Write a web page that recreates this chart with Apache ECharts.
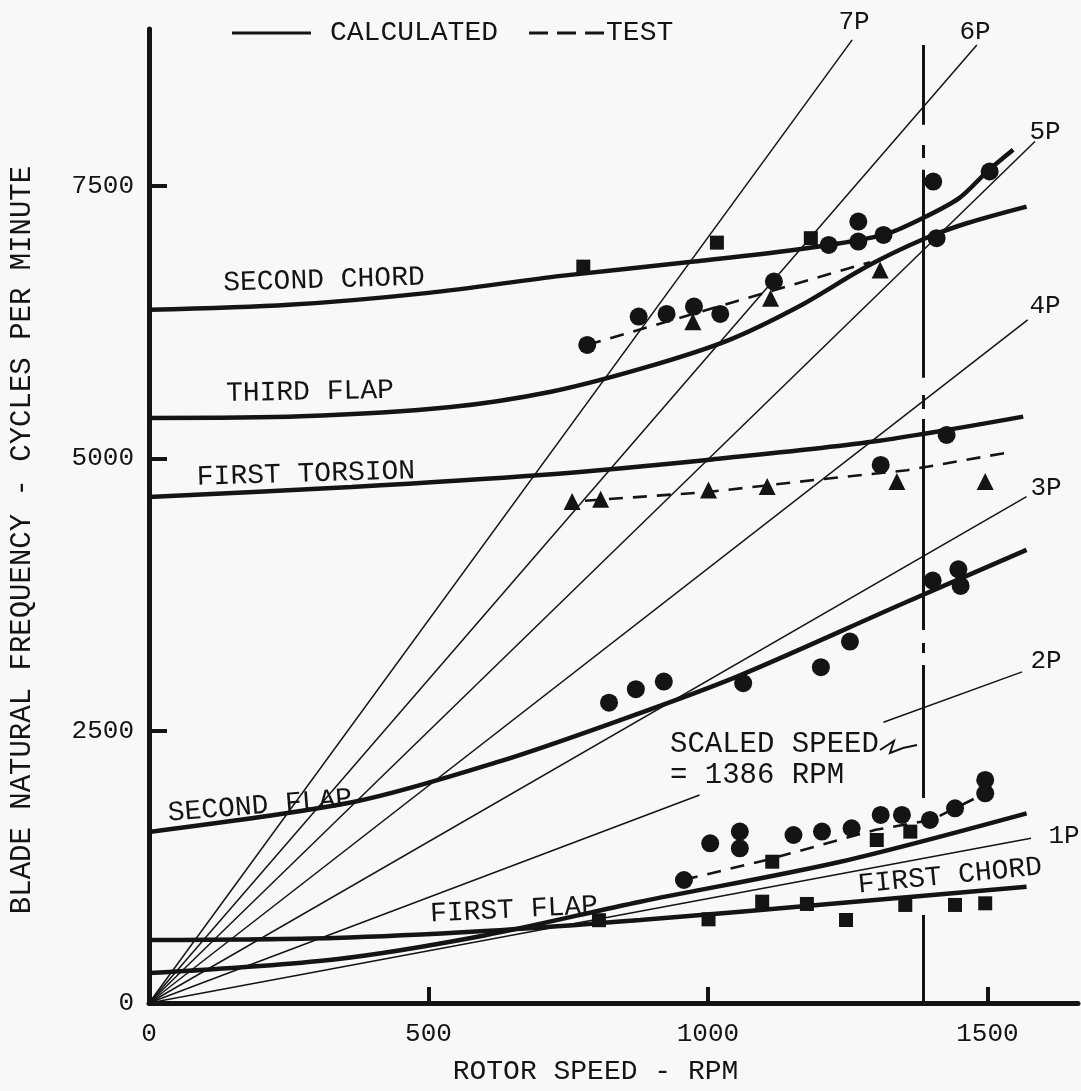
<!DOCTYPE html>
<html>
<head>
<meta charset="utf-8">
<script src="https://cdn.jsdelivr.net/npm/echarts@6/dist/echarts.min.js"></script>
<style>
  html, body { margin: 0; padding: 0; background: #f8f8f6; }
  #chart { width: 1081px; height: 1091px; }
</style>
</head>
<body>
<div id="chart"></div>
<script>
// axis ticks
const xTickValues = [0, 500, 1000, 1500];
const yTickValues = [0, 2500, 5000, 7500];

// calculated curves  [rpm, cycles per minute]
const secondChordCalc = [[0, 6362], [250, 6408], [500, 6518], [737, 6674], [975, 6805], [1180, 6930], [1314, 7050], [1385, 7206], [1450, 7390], [1499, 7629], [1546, 7831]];
const thirdFlapCalc = [[0, 5370], [272, 5385], [540, 5470], [719, 5610], [885, 5829], [1035, 6080], [1165, 6400], [1284, 6760], [1385, 7010], [1463, 7157], [1570, 7310]];
const firstTorsionCalc = [[0, 4645], [362, 4737], [701, 4847], [999, 4985], [1296, 5153], [1564, 5382]];
const secondFlapCalc = [[0, 1570], [370, 1850], [629, 2220], [844, 2598], [1052, 2996], [1350, 3669], [1570, 4159]];
const firstFlapCalc = [[0, 275], [331, 400], [600, 620], [879, 930], [1237, 1297], [1570, 1741]];
const firstChordCalc = [[0, 578], [331, 597], [600, 660], [879, 762], [1237, 918], [1570, 1068]];

// test lines (dashed)
const thirdFlapTestLine = [[784, 6040], [1290, 6800]];
const firstTorsionTestLine = [[780, 4610], [1000, 4690], [1190, 4800], [1356, 4890], [1546, 5061]];
const firstFlapTestLine = [[957, 1130], [1110, 1320], [1300, 1590], [1400, 1680], [1496, 1925]];

// test points
const testCircles = [
  [784, 6040], [876, 6300], [926, 6325], [975, 6392], [1022, 6325], [1118, 6622],
  [1216, 6958], [1269, 7172], [1269, 6989], [1314, 7050], [1403, 7540], [1409, 7020], [1504, 7632],
  [1309, 4939], [1427, 5214],
  [823, 2757], [871, 2880], [921, 2950], [1063, 2935], [1202, 3082], [1254, 3317], [1402, 3877], [1448, 3981], [1452, 3828],
  [957, 1129], [1004, 1466], [1057, 1573], [1057, 1420], [1153, 1542], [1204, 1573], [1257, 1604],
  [1309, 1726], [1347, 1726], [1397, 1680], [1442, 1787], [1496, 2047], [1496, 1925]
];
const testTriangles = [
  [973, 6254], [1112, 6469], [1308, 6729],
  [757, 4602], [808, 4624], [1001, 4709], [1106, 4740], [1338, 4786], [1496, 4786]
];
const testSquares = [
  [777, 6759], [1016, 6979], [1184, 7020],
  [1115, 1297], [1302, 1496], [1362, 1573],
  [805, 760], [1001, 768], [1097, 930], [1177, 909], [1247, 762], [1353, 900], [1442, 900], [1496, 915]
];

// per-rev lines, origin to end point
const rayLabels = ['1P', '2P', '3P', '4P', '5P', '6P', '7P'];
const rayEnds = [[1578, 1513], [985, 1909], [1570, 4648], [1572, 6270], [1585, 7907], [1481, 8794], [1258, 8840]];
const twoPUpper = [[1314, 2577], [1562, 3039]];

// scaled speed line, broken into dash-dot pieces
const scaledSpeed = 1386;
const scaledSpeedPieces = [[0, 808], [1882, 3103], [3213, 3305], [3424, 5361], [5453, 5581], [5738, 7647], [7757, 7876], [8060, 8794]];

const INK = '#141414';
const FONT = '"Liberation Mono", "DejaVu Sans Mono", monospace';

const chart = echarts.init(document.getElementById('chart'));

const calcCurves = [secondChordCalc, thirdFlapCalc, firstTorsionCalc, secondFlapCalc, firstFlapCalc, firstChordCalc];
const testLines = [thirdFlapTestLine, firstTorsionTestLine, firstFlapTestLine];

const series = [];

series.push({
  type: 'lines',
  coordinateSystem: 'cartesian2d',
  silent: true,
  z: 1,
  lineStyle: { color: INK, width: 1.5, opacity: 1 },
  data: rayEnds.map(e => ({ coords: [[0, 0], e] })).concat([{ coords: twoPUpper }])
});

series.push({
  type: 'lines',
  coordinateSystem: 'cartesian2d',
  silent: true,
  z: 2,
  lineStyle: { color: INK, width: 3, opacity: 1 },
  data: scaledSpeedPieces.map(p => ({ coords: [[scaledSpeed, p[0]], [scaledSpeed, p[1]]] }))
});

calcCurves.forEach(d => {
  series.push({
    name: 'CALCULATED',
    type: 'line',
    data: d,
    smooth: 0.3,
    symbol: 'none',
    z: 4,
    lineStyle: { color: INK, width: 4.5 },
    itemStyle: { color: INK }
  });
});

testLines.forEach(d => {
  series.push({
    name: 'TEST',
    type: 'line',
    data: d,
    symbol: 'none',
    z: 3,
    lineStyle: { color: INK, width: 2.6, type: [14, 10] },
    itemStyle: { color: INK }
  });
});

const markerStyle = { color: INK, opacity: 1 };
series.push({ type: 'scatter', data: testCircles, symbol: 'circle', symbolSize: 18, itemStyle: markerStyle, z: 5 });
series.push({ type: 'scatter', data: testTriangles, symbol: 'triangle', symbolSize: 17, itemStyle: markerStyle, z: 5 });
series.push({ type: 'scatter', data: testSquares, symbol: 'rect', symbolSize: 14, itemStyle: markerStyle, z: 5 });

function txt(text, x, y, rot, size, align) {
  return {
    type: 'text',
    x: x,
    y: y,
    rotation: rot || 0,
    z: 10,
    style: {
      text: text,
      font: (size || 28) + 'px ' + FONT,
      fill: INK,
      align: align || 'center',
      verticalAlign: 'middle',
      textAlign: align || 'center',
      textVerticalAlign: 'middle'
    }
  };
}

// legend icons: a solid bar and a three-dash bar, inside a 79x22 box
const solidIcon = 'path://M0,0h0.01v0.01h-0.01z M0,9.5h79v3h-79z M79,22h-0.01v-0.01h0.01z';
const dashIcon = 'path://M0,0h0.01v0.01h-0.01z M0,9.5h19v3h-19z M28,9.5h19v3h-19z M56,9.5h19v3h-19z M79,22h-0.01v-0.01h0.01z';

const option = {
  animation: false,
  backgroundColor: '#f8f8f6',
  grid: { left: 147.5, right: 3, top: 29, bottom: 88 },
  legend: {
    left: 227,
    top: 14,
    itemWidth: 79,
    itemHeight: 22,
    itemGap: 31,
    selectedMode: false,
    textStyle: { fontFamily: FONT, fontSize: 28, color: INK },
    data: [
      { name: 'CALCULATED', icon: solidIcon, itemStyle: { color: INK }, textStyle: { padding: [0, 0, 0, 14] } },
      { name: 'TEST', icon: dashIcon, itemStyle: { color: INK }, textStyle: { padding: [0, 0, 0, -7] } }
    ]
  },
  xAxis: {
    type: 'value',
    min: 0,
    max: 1662,
    name: 'ROTOR SPEED - RPM',
    nameLocation: 'middle',
    nameGap: 55,
    nameTextStyle: { fontFamily: FONT, fontSize: 28, color: INK, padding: [0, 36, 0, 0] },
    axisLine: { onZero: false, lineStyle: { color: INK, width: 5 } },
    axisTick: { inside: true, length: 16, customValues: xTickValues, lineStyle: { color: INK, width: 4 } },
    axisLabel: { customValues: xTickValues, formatter: v => String(v), margin: 18, fontFamily: FONT, fontSize: 26, color: INK },
    splitLine: { show: false }
  },
  yAxis: {
    type: 'value',
    min: 0,
    max: 8940,
    name: 'BLADE NATURAL FREQUENCY - CYCLES PER MINUTE',
    nameLocation: 'middle',
    nameGap: 112,
    nameTextStyle: { fontFamily: FONT, fontSize: 29, color: INK, padding: [0, 48, 0, 0] },
    axisLine: { onZero: false, lineStyle: { color: INK, width: 5 } },
    axisTick: { inside: true, length: 18, customValues: yTickValues, lineStyle: { color: INK, width: 4 } },
    axisLabel: { customValues: yTickValues, formatter: v => String(v), margin: 15, fontFamily: FONT, fontSize: 26, color: INK },
    splitLine: { show: false }
  },
  graphic: [
    txt('SECOND CHORD', 324, 280, 0.03),
    txt('THIRD FLAP', 310, 392, 0.02),
    txt('FIRST TORSION', 306, 474, 0.03),
    txt('SECOND FLAP', 260, 806, 0.08),
    txt('FIRST FLAP', 514, 910, 0.05),
    txt('FIRST CHORD', 950, 876, 0.1),
    txt(rayLabels[6], 854, 22, 0, 26),
    txt(rayLabels[5], 975, 32, 0, 26),
    txt(rayLabels[4], 1045, 132, 0, 26),
    txt(rayLabels[3], 1045, 306, 0, 26),
    txt(rayLabels[2], 1046, 488, 0, 26),
    txt(rayLabels[1], 1046, 661, 0, 26),
    txt(rayLabels[0], 1064, 836, 0, 26),
    txt('SCALED SPEED', 670, 744, 0, 29, 'left'),
    txt('= 1386 RPM', 670, 775, 0, 29, 'left'),
    {
      type: 'polyline',
      z: 10,
      shape: { points: [[880, 750], [894, 741], [890, 753], [903, 748], [917, 745]] },
      style: { stroke: INK, lineWidth: 2, fill: null }
    }
  ],
  series: series
};

chart.setOption(option);
</script>
</body>
</html>
